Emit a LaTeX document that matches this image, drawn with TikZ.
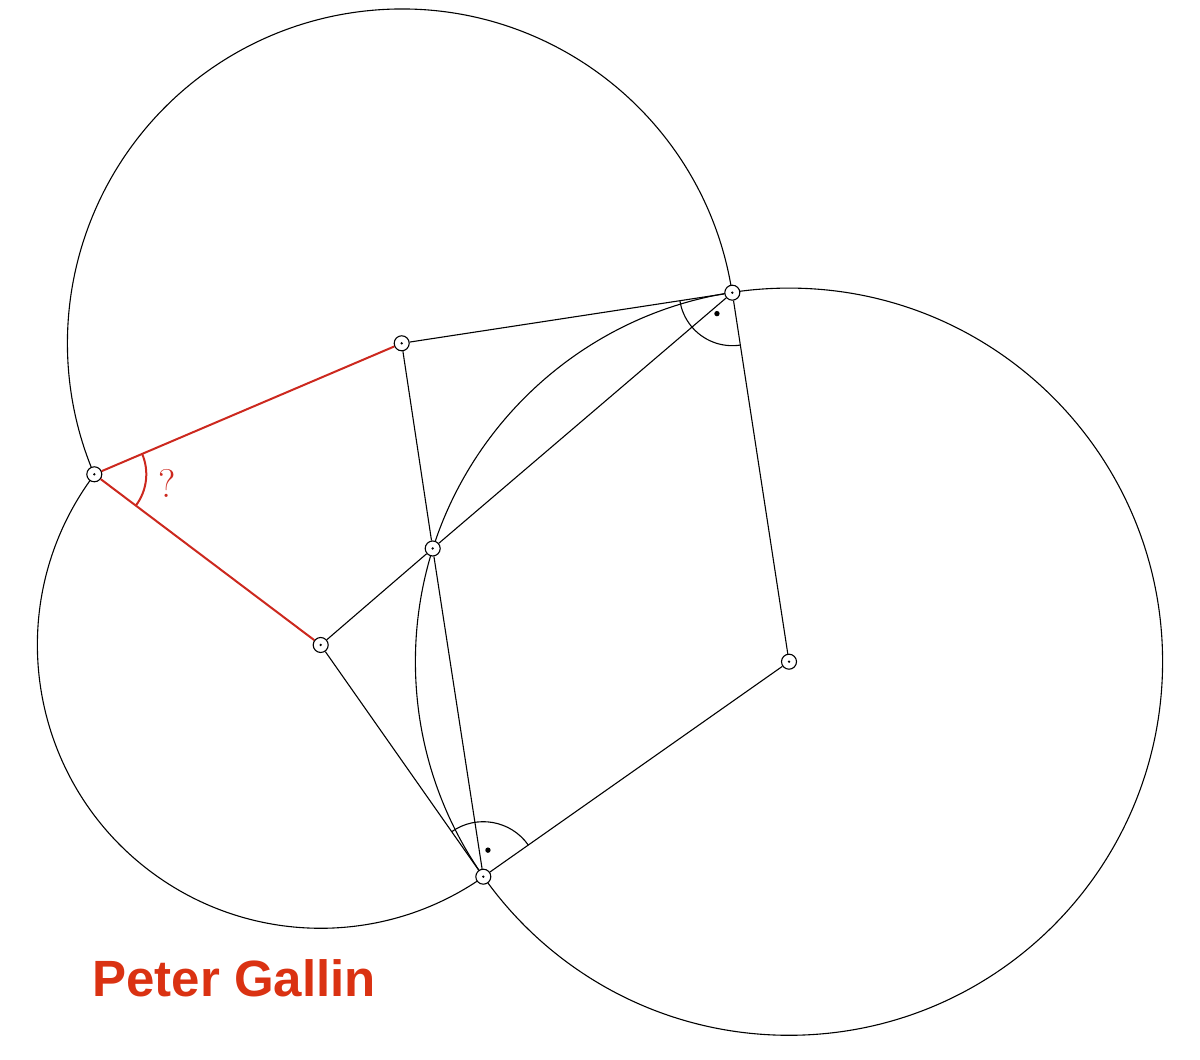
\documentclass[tikz,border=0pt]{standalone}
\usepackage{fontspec}
\newfontfamily\namefont{Liberation Sans}
\usetikzlibrary{angles, quotes, backgrounds}
\definecolor{linered}{RGB}{204,40,30}
\definecolor{namered}{RGB}{218,50,18}

\begin{document}
\begin{tikzpicture}[x=1pt,y=1pt,line width=1.1pt,
 point node/.style={circle,draw,fill=white,inner sep=0pt,minimum size=15pt},
 circle line/.style={draw,line width=1.1pt},
 right mark/.style={draw,angle radius=54pt,angle eccentricity=0.49,
   pic text={},pic text options={circle,fill,inner sep=1.9pt}}]
\useasboundingbox (0,0) rectangle (1200,1060);
 \foreach \n/\x/\y in {A/94.3/585.7, B/401.7/716.7, C/732.3/767.3, M/432.7/511.5,
     D/320.7/415, E/483.3/183.3, F/789/398.3}{
     \node[point node](\n) at (\x,\y){};
     \fill (\n) circle (1.3pt);}

 \begin{scope}[on background layer]
  % outer arcs only, the third circle in full
  \path[circle line] ([shift={(8.7:334.3pt)}]B.center) arc[start angle=8.7,end angle=203.1,radius=334.3pt];
  \path[circle line] ([shift={(143:283.3pt)}]D.center) arc[start angle=143,end angle=305.1,radius=283.3pt];
  \path[circle line] (F) circle[radius=373.6pt];
 \end{scope}

 \path[draw]
   (B) edge (C)
   (C) edge (F)
       edge (M)
   (F) edge (E)
   (E) edge (D)
       edge (M)
   (M) edge (B)
       edge (D);
 \path[draw,linered,line width=2pt]
   (A) edge (B)
       edge (D);

 \pic[right mark,angle radius=53pt]{angle = B--C--F};
 \pic[right mark,angle radius=55pt]{angle = F--E--D};
 \pic[draw,linered,line width=2pt,angle radius=52pt,angle eccentricity=1.42,
   pic text={?},pic text options={text=linered,font=\fontsize{40}{48}\selectfont}]
   {angle = D--A--B};

 \node[anchor=base west,inner sep=0pt,text=namered,
   font=\namefont\bfseries\fontsize{51}{60}\selectfont](name) at (92,63){Peter Gallin};
\end{tikzpicture}
\end{document}
